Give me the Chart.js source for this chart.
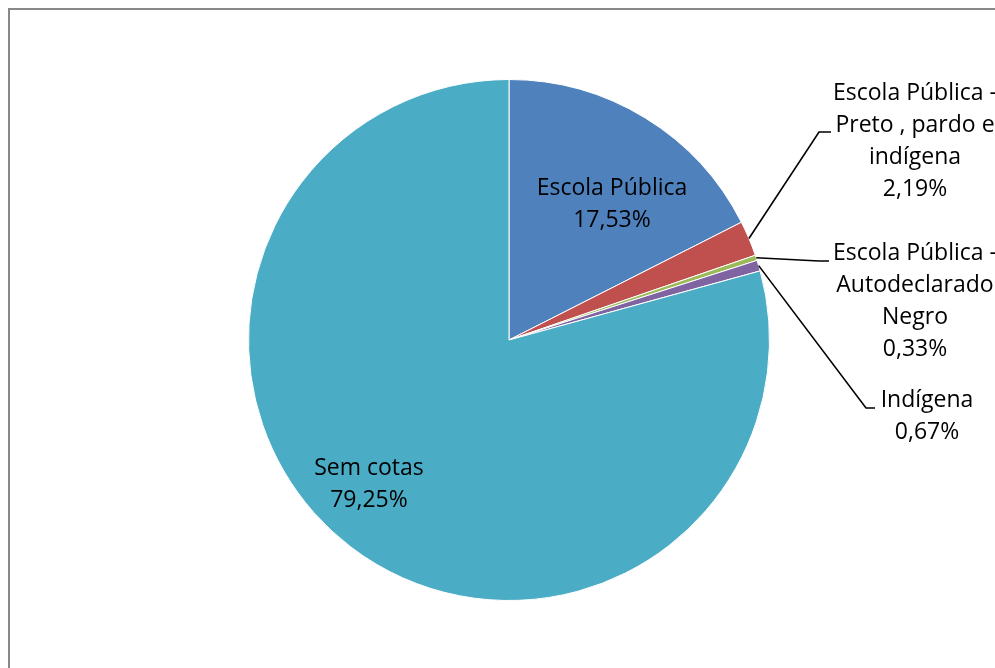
<!DOCTYPE html>
<html>
<head>
<meta charset="utf-8">
<script src="https://cdn.jsdelivr.net/npm/chart.js@4"></script>
<style>
  html, body { margin: 0; padding: 0; background: #fff; }
  #wrap { width: 995px; height: 668px; position: relative; overflow: hidden; }
</style>
</head>
<body>
<div id="wrap"><canvas id="chart" width="995" height="668"></canvas></div>
<script>
// data
const categories = [
    ["Escola Pública"],
    ["Escola Pública -", "Preto , pardo e", "indígena"],
    ["Escola Pública -", "Autodeclarado", "Negro"],
    ["Indígena"],
    ["Sem cotas"]
];
const percentages = [17.53, 2.19, 0.33, 0.67, 79.25];
const percentLabels = ["17,53%", "2,19%", "0,33%", "0,67%", "79,25%"];
const sliceColors = ["#4F81BD", "#C0504D", "#9BBB59", "#8064A2", "#4BACC6"];

// where each label sits (layout only)
const labelLayout = [
    { x: 612, y: 188, inside: true },
    { x: 915, y: 93, elbow: [819, 132], end: 831 },
    { x: 915, y: 253, elbow: [819, 261], end: 829 },
    { x: 927, y: 400, elbow: [866, 408], end: 875 },
    { x: 369, y: 468, inside: true }
];

const fontFamily = "'Open Sans', sans-serif";
const lineH = 32;

let frame = {
    id: "frame",
    beforeDraw(chart) {
        let ctx = chart.ctx;
        ctx.save();
        ctx.strokeStyle = "#888888";
        ctx.lineWidth = 2;
        ctx.strokeRect(9, 9, 2000, 2000);
        ctx.restore();
    }
};

let sliceLabels = {
    id: "sliceLabels",
    afterDraw(chart) {
        let ctx = chart.ctx;
        let arcs = chart.getDatasetMeta(0).data;
        ctx.save();
        ctx.font = "23px " + fontFamily;
        ctx.fillStyle = "#000";
        ctx.textAlign = "center";
        ctx.textBaseline = "middle";
        arcs.forEach((arc, i) => {
            let lay = labelLayout[i];
            if (!lay.inside) {
                let mid = (arc.startAngle + arc.endAngle) / 2;
                let sx = arc.x + Math.cos(mid) * arc.outerRadius;
                let sy = arc.y + Math.sin(mid) * arc.outerRadius;
                ctx.beginPath();
                ctx.strokeStyle = "#000";
                ctx.lineWidth = 1.6;
                ctx.moveTo(sx, sy);
                ctx.lineTo(lay.elbow[0], lay.elbow[1]);
                ctx.lineTo(lay.end, lay.elbow[1]);
                ctx.stroke();
            }
            let lines = categories[i].concat([percentLabels[i]]);
            lines.forEach((t, k) => {
                ctx.fillText(t, lay.x, lay.y + k * lineH);
            });
        });
        ctx.restore();
    }
};

new Chart(document.getElementById("chart"), {
    type: "pie",
    data: {
        labels: categories.map(c => c.join(" ")),
        datasets: [{
            data: percentages,
            backgroundColor: sliceColors,
            borderColor: "#ffffff",
            borderWidth: 1
        }]
    },
    options: {
        responsive: false,
        animation: false,
        layout: { padding: { left: 248, right: 225, top: 79, bottom: 67 } },
        plugins: {
            legend: { display: false },
            tooltip: { enabled: false }
        }
    },
    plugins: [frame, sliceLabels]
});
</script>
</body>
</html>
